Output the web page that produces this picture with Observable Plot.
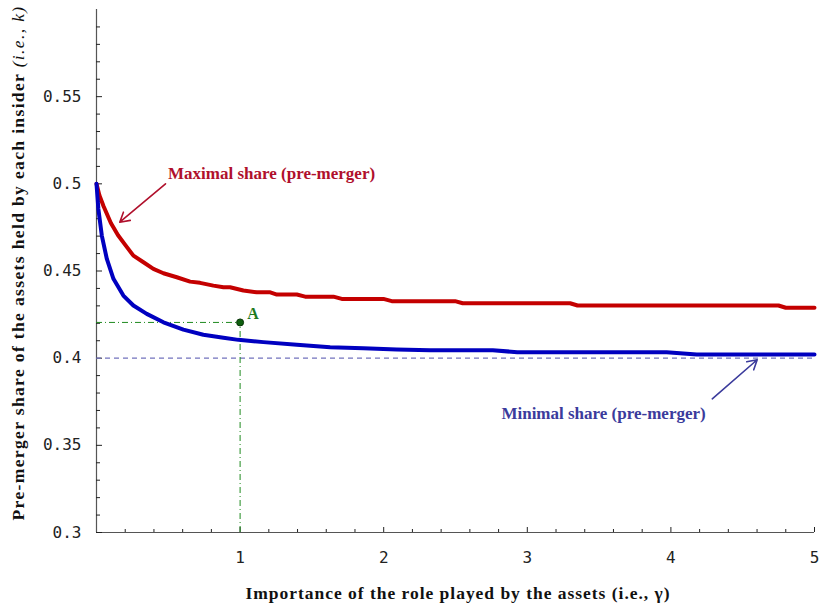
<!DOCTYPE html>
<html><head><meta charset="utf-8">
<script src="https://cdn.jsdelivr.net/npm/d3@7"></script>
<script src="https://cdn.jsdelivr.net/npm/@observablehq/plot@0.6"></script>
<style>
body{margin:0;background:#fff}
#chart svg{display:block}
#chart svg [aria-label="y-axis tick label"] text,
#chart svg [aria-label="x-axis tick label"] text{font-family:'DejaVu Sans Mono',monospace;font-size:16px;fill:#222}
</style>
</head><body><div id="chart"></div>
<script>
// Maximal share (pre-merger) curve
const maxGamma = [0,0.02,0.05,0.1,0.15,0.2,0.257,0.327,0.396,0.466,0.559,0.652,0.721,0.814,0.884,0.93,1.023,1.116,1.21,1.256,1.395,1.453,1.65,1.708,1.998,2.056,2.497,2.55,3.298,3.35,4.749,4.8,5];
const maxShare = [0.5,0.4935,0.487,0.4775,0.4705,0.465,0.4588,0.455,0.4512,0.4487,0.4464,0.4439,0.4432,0.4416,0.4407,0.4407,0.4388,0.4378,0.4378,0.4365,0.4365,0.4353,0.4353,0.434,0.434,0.4327,0.4327,0.4315,0.4315,0.4302,0.4302,0.4289,0.4289];
// Minimal share curve
const minGamma = [0,0.013,0.037,0.072,0.118,0.187,0.257,0.35,0.466,0.605,0.744,0.884,0.988,1.162,1.395,1.627,1.859,2.091,2.323,2.76,2.93,3.97,4.18,5];
const minShare = [0.5,0.4856,0.4703,0.4569,0.4455,0.4359,0.4302,0.4254,0.4206,0.4164,0.4134,0.4117,0.4105,0.4092,0.4077,0.4063,0.4057,0.405,0.4046,0.4046,0.4034,0.4034,0.4021,0.4021];
// Reference lines and point A
const lowerBound = [0.4];
const pointA = [{g: 1, k: 0.4205, label: "A"}];
const xOrigin = 0, yOrigin = 0.3;
// Tick labels
const yTickLabels = [0.3,0.35,0.4,0.45,0.5,0.55];
const xTickLabels = [1,2,3,4,5];
const yMinorTicks = d3.range(30,60).map(i => i/100).filter(v => !yTickLabels.includes(v));
const xMinorTicks = d3.range(1,25).map(i => i/5).filter(v => !xTickLabels.includes(v));
// Annotations
const annotations = [
  {x: 1.219, y: 0.5059, text: "Maximal share (pre-merger)", color: "#b0102c"},
  {x: 3.531, y: 0.3683, text: "Minimal share (pre-merger)", color: "#3b3b9c"}
];
const arrows = [
  {x1: 0.4805, y1: 0.5, x2: 0.162, y2: 0.478, color: "#b0102c"},
  {x1: 4.288, y1: 0.3767, x2: 4.601, y2: 0.3991, color: "#3b3b9c"}
];
const xTitle = "Importance of the role played by the assets (i.e., γ)";
const yTitleMain = "Pre-merger share of the assets held by each insider ";
const yTitleItalic = "(i.e., k)";

const maxData = maxGamma.map((g,i)=>({g, k: maxShare[i]}));
const minData = minGamma.map((g,i)=>({g, k: minShare[i]}));

const W = 821, H = 608, mL = 96, mR = 7, mT = 9, mB = 76;
const fw = W - mL - mR, fh = H - mT - mB;
const serif = "'Liberation Serif', 'DejaVu Serif', serif";

const chart = Plot.plot({
  width: W, height: H,
  marginLeft: mL, marginRight: mR, marginTop: mT, marginBottom: mB,
  x: {domain: [0, 5]},
  y: {domain: [0.3, 0.6]},
  style: {background: "white", fontFamily: "'DejaVu Sans Mono', monospace", fontSize: "16px", color: "#222"},
  marks: [
    Plot.ruleX([xOrigin], {stroke: "#555", strokeWidth: 1.2}),
    Plot.ruleY([yOrigin], {stroke: "#555", strokeWidth: 1.2}),
    Plot.ruleY(yMinorTicks, {stroke: "#222", insetRight: fw - 4}),
    Plot.ruleY(yTickLabels, {stroke: "#222", insetRight: fw - 6}),
    Plot.ruleX(xMinorTicks, {stroke: "#222", insetTop: fh - 3}),
    Plot.ruleX(xTickLabels, {stroke: "#222", insetTop: fh - 5}),
    Plot.axisY(yTickLabels, {tickSize: 0, tickPadding: 15, tickFormat: d => String(d), label: null}),
    Plot.axisX(xTickLabels, {tickSize: 0, tickPadding: 19, tickFormat: d => String(d), label: null}),
    Plot.ruleY(lowerBound, {stroke: "#7373bd", strokeWidth: 1.3, strokeDasharray: "5,4"}),
    Plot.ruleY(pointA, {y: "k", x1: xOrigin, x2: "g", stroke: "#1f8a1f", strokeWidth: 1, strokeDasharray: "6,3,1,3"}),
    Plot.ruleX(pointA, {x: "g", y1: yOrigin, y2: "k", stroke: "#1f8a1f", strokeWidth: 1, strokeDasharray: "6,3,1,3"}),
    Plot.line(maxData, {x: "g", y: "k", stroke: "#c40000", strokeWidth: 4}),
    Plot.line(minData, {x: "g", y: "k", stroke: "#0000c0", strokeWidth: 4}),
    Plot.dot(pointA, {x: "g", y: "k", r: 3.5, fill: "#0f5f0f", stroke: "#063306", strokeWidth: 1}),
    Plot.text(pointA, {x: "g", y: "k", text: "label", dx: 13, dy: -9, fill: "#1f7a1f", fontWeight: "bold", fontFamily: serif, fontSize: 16}),
    Plot.arrow(arrows, {x1: "x1", y1: "y1", x2: "x2", y2: "y2", stroke: "color", strokeWidth: 1.6, headLength: 10}),
    Plot.text(annotations, {x: "x", y: "y", text: "text", fill: "color", fontWeight: "bold", fontFamily: serif, fontSize: 17})
  ]
});
document.getElementById("chart").appendChild(chart);

const svg = d3.select(chart);
function fitSpacing(sel, target) {
  const node = sel.node();
  const len = node.getComputedTextLength();
  const n = node.textContent.length;
  if (len > 0 && n > 1) sel.attr("letter-spacing", ((target - len) / n).toFixed(3));
}
// x-axis title
const xt = svg.append("text")
  .attr("x", 458).attr("y", 599)
  .attr("text-anchor", "middle")
  .attr("font-family", serif).attr("font-weight", "bold").attr("font-size", 17.5).attr("fill", "#111")
  .text(xTitle);
fitSpacing(xt, 425);
// y-axis title
const yt = svg.append("text")
  .attr("transform", "translate(24,263) rotate(-90)")
  .attr("text-anchor", "middle")
  .attr("font-family", serif).attr("font-size", 17.5).attr("fill", "#111");
yt.append("tspan").attr("font-weight", "bold").text(yTitleMain);
yt.append("tspan").attr("font-style", "italic").text(yTitleItalic);
fitSpacing(yt, 515);
</script>
</body></html>
